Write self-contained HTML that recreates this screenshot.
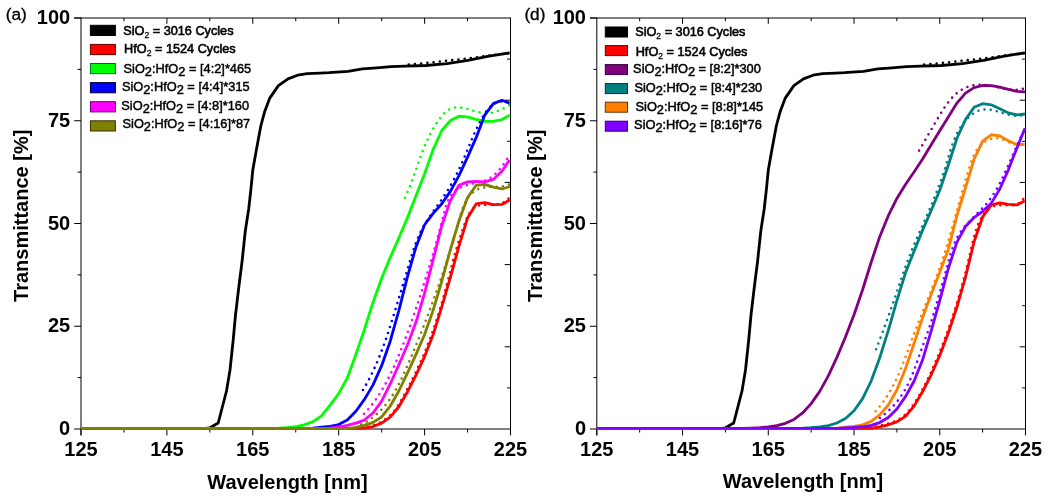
<!DOCTYPE html>
<html><head><meta charset="utf-8"><style>
html,body{margin:0;padding:0;background:#fff;}
svg{display:block;will-change:transform;}
text{font-family:"Liberation Sans", sans-serif;fill:#000;}
</style></head><body>
<svg width="1049" height="500" viewBox="0 0 1049 500">
<rect width="1049" height="500" fill="#fff"/>
<line x1="81.0" y1="17.5" x2="81.0" y2="435.4" stroke="#000" stroke-width="1"/>
<line x1="74.2" y1="18.0" x2="510.5" y2="18.0" stroke="#000" stroke-width="1"/>
<line x1="510.5" y1="17.5" x2="510.5" y2="429.5" stroke="#000" stroke-width="1"/>
<line x1="81.0" y1="429.0" x2="510.5" y2="429.0" stroke="#000" stroke-width="1"/>
<line x1="81.00" y1="429.0" x2="81.00" y2="435.4" stroke="#000" stroke-width="1"/>
<text x="81.00" y="455.6" font-size="20" font-weight="bold" text-anchor="middle">125</text>
<line x1="123.95" y1="429.0" x2="123.95" y2="432.5" stroke="#000" stroke-width="1"/>
<line x1="123.95" y1="18.0" x2="123.95" y2="21.2" stroke="#000" stroke-width="1"/>
<line x1="166.90" y1="429.0" x2="166.90" y2="435.4" stroke="#000" stroke-width="1"/>
<line x1="166.90" y1="18.0" x2="166.90" y2="23.8" stroke="#000" stroke-width="1"/>
<text x="166.90" y="455.6" font-size="20" font-weight="bold" text-anchor="middle">145</text>
<line x1="209.85" y1="429.0" x2="209.85" y2="432.5" stroke="#000" stroke-width="1"/>
<line x1="209.85" y1="18.0" x2="209.85" y2="21.2" stroke="#000" stroke-width="1"/>
<line x1="252.80" y1="429.0" x2="252.80" y2="435.4" stroke="#000" stroke-width="1"/>
<line x1="252.80" y1="18.0" x2="252.80" y2="23.8" stroke="#000" stroke-width="1"/>
<text x="252.80" y="455.6" font-size="20" font-weight="bold" text-anchor="middle">165</text>
<line x1="295.75" y1="429.0" x2="295.75" y2="432.5" stroke="#000" stroke-width="1"/>
<line x1="295.75" y1="18.0" x2="295.75" y2="21.2" stroke="#000" stroke-width="1"/>
<line x1="338.70" y1="429.0" x2="338.70" y2="435.4" stroke="#000" stroke-width="1"/>
<line x1="338.70" y1="18.0" x2="338.70" y2="23.8" stroke="#000" stroke-width="1"/>
<text x="338.70" y="455.6" font-size="20" font-weight="bold" text-anchor="middle">185</text>
<line x1="381.65" y1="429.0" x2="381.65" y2="432.5" stroke="#000" stroke-width="1"/>
<line x1="381.65" y1="18.0" x2="381.65" y2="21.2" stroke="#000" stroke-width="1"/>
<line x1="424.60" y1="429.0" x2="424.60" y2="435.4" stroke="#000" stroke-width="1"/>
<line x1="424.60" y1="18.0" x2="424.60" y2="23.8" stroke="#000" stroke-width="1"/>
<text x="424.60" y="455.6" font-size="20" font-weight="bold" text-anchor="middle">205</text>
<line x1="467.55" y1="429.0" x2="467.55" y2="432.5" stroke="#000" stroke-width="1"/>
<line x1="467.55" y1="18.0" x2="467.55" y2="21.2" stroke="#000" stroke-width="1"/>
<line x1="510.50" y1="429.0" x2="510.50" y2="435.4" stroke="#000" stroke-width="1"/>
<text x="510.50" y="455.6" font-size="20" font-weight="bold" text-anchor="middle">225</text>
<line x1="74.2" y1="429.00" x2="81.0" y2="429.00" stroke="#000" stroke-width="1"/>
<text x="70.2" y="435.10" font-size="20" font-weight="bold" text-anchor="end">0</text>
<line x1="77.6" y1="377.62" x2="81.0" y2="377.62" stroke="#000" stroke-width="1"/>
<line x1="74.2" y1="326.25" x2="81.0" y2="326.25" stroke="#000" stroke-width="1"/>
<text x="70.2" y="332.35" font-size="20" font-weight="bold" text-anchor="end">25</text>
<line x1="77.6" y1="274.88" x2="81.0" y2="274.88" stroke="#000" stroke-width="1"/>
<line x1="74.2" y1="223.50" x2="81.0" y2="223.50" stroke="#000" stroke-width="1"/>
<text x="70.2" y="229.60" font-size="20" font-weight="bold" text-anchor="end">50</text>
<line x1="77.6" y1="172.12" x2="81.0" y2="172.12" stroke="#000" stroke-width="1"/>
<line x1="74.2" y1="120.75" x2="81.0" y2="120.75" stroke="#000" stroke-width="1"/>
<text x="70.2" y="126.85" font-size="20" font-weight="bold" text-anchor="end">75</text>
<line x1="77.6" y1="69.38" x2="81.0" y2="69.38" stroke="#000" stroke-width="1"/>
<line x1="74.2" y1="18.00" x2="81.0" y2="18.00" stroke="#000" stroke-width="1"/>
<text x="70.2" y="24.10" font-size="20" font-weight="bold" text-anchor="end">100</text>
<line x1="507.1" y1="387.90" x2="510.5" y2="387.90" stroke="#000" stroke-width="1"/>
<line x1="504.7" y1="346.80" x2="510.5" y2="346.80" stroke="#000" stroke-width="1"/>
<line x1="507.1" y1="305.70" x2="510.5" y2="305.70" stroke="#000" stroke-width="1"/>
<line x1="504.7" y1="264.60" x2="510.5" y2="264.60" stroke="#000" stroke-width="1"/>
<line x1="507.1" y1="223.50" x2="510.5" y2="223.50" stroke="#000" stroke-width="1"/>
<line x1="504.7" y1="182.40" x2="510.5" y2="182.40" stroke="#000" stroke-width="1"/>
<line x1="507.1" y1="141.30" x2="510.5" y2="141.30" stroke="#000" stroke-width="1"/>
<line x1="504.7" y1="100.20" x2="510.5" y2="100.20" stroke="#000" stroke-width="1"/>
<line x1="507.1" y1="59.10" x2="510.5" y2="59.10" stroke="#000" stroke-width="1"/>
<path d="M408.70,64.63 L410.23,64.50 L411.75,64.36 L413.28,64.22 L414.80,64.08 L416.32,63.94 L417.85,63.80 L419.37,63.66 L420.89,63.51 L422.41,63.36 L423.94,63.21 L425.46,63.06 L426.98,62.91 L428.50,62.75 L430.03,62.60 L431.55,62.44 L433.07,62.28 L434.59,62.12 L436.11,61.96 L437.63,61.79 L439.16,61.63 L440.68,61.46 L442.20,61.30 L443.72,61.13 L445.24,60.96 L446.76,60.79 L448.28,60.62 L449.80,60.44 L451.32,60.27 L452.84,60.09 L454.36,59.92 L455.88,59.74 L457.40,59.56 L458.92,59.38 L460.44,59.20 L461.96,59.02 L463.48,58.84 L465.00,58.66 L466.52,58.47 L468.03,58.29 L469.55,58.10 L471.07,57.92 L472.59,57.73 L474.11,57.55 L475.63,57.36 L477.15,57.17 L478.66,56.98 L480.18,56.79 L481.70,56.60 L483.22,56.41 L484.74,56.22 L486.25,56.03 L487.77,55.84 L489.29,55.65 L490.81,55.46 L492.33,55.26 L493.84,55.07 L495.36,54.88 L496.88,54.69 L498.40,54.49 L499.91,54.30 L501.43,54.11 L502.95,53.91 L504.47,53.72 L505.98,53.53 L507.50,53.33 L509.02,53.14" fill="none" stroke="#000000" stroke-width="2.6" stroke-linecap="round" stroke-dasharray="0 6.25"/>
<path d="M81.00,428.40 L206.00,428.40 L210.00,427.80 L218.20,423.00 L226.50,391.00 L230.00,370.00 L233.20,340.00 L235.40,316.00 L238.70,288.00 L242.00,262.00 L245.30,231.00 L248.70,209.00 L250.90,189.40 L252.80,170.00 L256.40,149.80 L260.80,126.00 L264.80,111.20 L269.60,98.40 L278.40,85.60 L288.00,78.90 L297.60,75.20 L307.20,73.60 L320.00,73.10 L329.00,72.70 L348.00,71.40 L362.40,68.90 L376.70,67.90 L391.00,66.70 L405.30,66.20 L426.00,65.50 L446.90,63.60 L467.90,60.40 L488.90,56.20 L509.60,52.90" fill="none" stroke="#000000" stroke-width="2.8" stroke-linejoin="round" stroke-linecap="butt"/>
<path d="M362.01,427.51 L363.50,427.39 L364.99,427.21 L366.47,426.98 L367.95,426.71 L369.42,426.38 L370.89,426.01 L372.34,425.59 L373.78,425.12 L375.21,424.60 L376.62,424.04 L378.01,423.43 L379.38,422.78 L380.73,422.09 L382.06,421.35 L383.35,420.57 L384.63,419.75 L385.87,418.88 L387.08,417.98 L388.26,417.04 L389.40,416.06 L390.51,415.04 L391.58,413.99 L392.61,412.89 L393.59,411.77 L394.53,410.60 L395.43,409.41 L396.30,408.19 L397.14,406.94 L397.95,405.68 L398.73,404.39 L399.50,403.09 L400.25,401.78 L400.99,400.47 L401.72,399.15 L402.46,397.82 L403.19,396.50 L403.91,395.18 L404.64,393.85 L405.36,392.53 L406.08,391.20 L406.79,389.87 L407.50,388.54 L408.21,387.21 L408.92,385.88 L409.62,384.55 L410.31,383.21 L411.00,381.87 L411.69,380.53 L412.37,379.18 L413.04,377.84 L413.71,376.49 L414.37,375.14 L415.03,373.78 L415.68,372.42 L416.33,371.06 L416.97,369.70 L417.61,368.34 L418.24,366.97 L418.87,365.60 L419.49,364.22 L420.11,362.85 L420.72,361.47 L421.32,360.09 L421.92,358.71 L422.52,357.32 L423.11,355.94 L423.70,354.55 L424.28,353.16 L424.85,351.76 L425.42,350.37 L425.99,348.97 L426.55,347.57 L427.11,346.17 L427.66,344.77 L428.20,343.36 L428.74,341.95 L429.28,340.54 L429.81,339.13 L430.34,337.72 L430.86,336.30 L431.38,334.89 L431.90,333.47 L432.40,332.05 L432.91,330.63 L433.41,329.20 L433.90,327.78 L434.39,326.35 L434.88,324.92 L435.36,323.49 L435.84,322.06 L436.31,320.63 L436.78,319.20 L437.25,317.76 L437.71,316.32 L438.16,314.89 L438.61,313.45 L439.06,312.01 L439.50,310.56 L439.94,309.12 L440.38,307.68 L440.81,306.23 L441.23,304.79 L441.66,303.34 L442.08,301.89 L442.49,300.44 L442.90,298.99 L443.31,297.54 L443.71,296.09 L444.11,294.63 L444.51,293.18 L444.90,291.73 L445.29,290.27 L445.68,288.81 L446.06,287.36 L446.45,285.90 L446.83,284.44 L447.21,282.99 L447.59,281.53 L447.97,280.07 L448.35,278.61 L448.73,277.16 L449.11,275.70 L449.49,274.24 L449.86,272.78 L450.24,271.32 L450.62,269.86 L451.01,268.41 L451.39,266.95 L451.77,265.49 L452.16,264.03 L452.55,262.58 L452.94,261.12 L453.33,259.67 L453.73,258.21 L454.13,256.76 L454.53,255.30 L454.94,253.85 L455.35,252.40 L455.77,250.95 L456.19,249.50 L456.61,248.05 L457.04,246.60 L457.47,245.16 L457.91,243.71 L458.36,242.27 L458.81,240.82 L459.27,239.38 L459.74,237.94 L460.21,236.50 L460.68,235.07 L461.17,233.63 L461.66,232.20 L462.16,230.76 L462.67,229.33 L463.19,227.90 L463.72,226.48 L464.25,225.05 L464.80,223.63 L465.35,222.21 L465.91,220.79 L466.48,219.37 L467.07,217.96 L467.67,216.56 L468.30,215.20 L468.97,213.87 L469.68,212.59 L470.45,211.38 L471.28,210.24 L472.17,209.20 L473.15,208.26 L474.22,207.43 L475.38,206.73 L476.64,206.17 L478.00,205.73 L479.44,205.41 L480.95,205.18 L482.51,205.03 L484.10,204.94 L485.71,204.89 L487.33,204.86 L488.93,204.83 L490.53,204.80 L492.10,204.76 L493.66,204.68 L495.19,204.56 L496.70,204.39 L498.17,204.15 L499.61,203.84 L501.02,203.44 L502.38,202.94 L503.69,202.32 L504.96,201.58 L506.18,200.71 L507.34,199.69 L508.45,198.51 L509.49,197.16" fill="none" stroke="#ff0000" stroke-width="2.6" stroke-linecap="round" stroke-dasharray="0 6.25"/>
<path d="M81.00,428.40 L89.59,428.40 L98.18,428.40 L106.77,428.40 L115.36,428.40 L123.95,428.40 L132.54,428.40 L141.13,428.40 L149.72,428.40 L158.31,428.40 L166.90,428.40 L175.49,428.40 L184.08,428.40 L192.67,428.40 L201.26,428.40 L209.85,428.40 L218.44,428.40 L227.03,428.40 L235.62,428.40 L244.21,428.40 L252.80,428.40 L261.39,428.40 L269.98,428.40 L278.57,428.40 L287.16,428.40 L295.75,428.40 L304.34,428.40 L312.93,428.40 L321.52,428.40 L330.11,428.40 L338.70,428.40 L347.29,428.40 L355.88,428.40 L364.47,428.19 L373.06,426.55 L381.65,423.16 L390.24,417.07 L398.83,406.77 L407.42,391.97 L416.01,375.05 L424.60,356.54 L433.19,334.53 L441.78,306.79 L450.37,277.28 L458.96,246.08 L467.55,218.03 L476.14,203.92 L484.73,202.59 L493.32,204.54 L501.91,204.45 L510.00,199.84" fill="none" stroke="#ff0000" stroke-width="2.8" stroke-linejoin="round" stroke-linecap="butt"/>
<path d="M404.98,197.81 L405.63,196.42 L406.26,195.03 L406.88,193.63 L407.49,192.23 L408.08,190.83 L408.67,189.42 L409.24,188.01 L409.81,186.59 L410.36,185.18 L410.91,183.76 L411.45,182.34 L411.98,180.91 L412.51,179.49 L413.03,178.06 L413.55,176.63 L414.06,175.20 L414.57,173.77 L415.07,172.34 L415.58,170.91 L416.08,169.48 L416.58,168.05 L417.08,166.61 L417.58,165.18 L418.08,163.75 L418.59,162.32 L419.09,160.90 L419.60,159.47 L420.12,158.04 L420.64,156.62 L421.16,155.20 L421.69,153.78 L422.23,152.36 L422.77,150.95 L423.32,149.54 L423.88,148.13 L424.45,146.72 L425.03,145.32 L425.62,143.93 L426.22,142.54 L426.83,141.15 L427.46,139.76 L428.10,138.39 L428.75,137.01 L429.42,135.64 L430.10,134.28 L430.80,132.92 L431.52,131.57 L432.25,130.23 L433.00,128.89 L433.77,127.56 L434.56,126.24 L435.37,124.92 L436.20,123.61 L437.05,122.31 L437.92,121.01 L438.82,119.74 L439.74,118.48 L440.69,117.26 L441.66,116.07 L442.67,114.93 L443.70,113.84 L444.77,112.81 L445.87,111.84 L447.00,110.95 L448.17,110.14 L449.37,109.42 L450.62,108.79 L451.90,108.27 L453.23,107.85 L454.60,107.55 L456.01,107.38 L457.46,107.32 L458.95,107.37 L460.47,107.52 L462.01,107.75 L463.57,108.04 L465.15,108.40 L466.74,108.80 L468.33,109.23 L469.91,109.68 L471.49,110.13 L473.06,110.59 L474.61,111.02 L476.13,111.43 L477.64,111.80 L479.13,112.14 L480.60,112.43 L482.06,112.67 L483.51,112.86 L484.95,113.00 L486.38,113.07 L487.82,113.08 L489.25,113.01 L490.68,112.87 L492.12,112.65 L493.56,112.35 L495.01,111.96 L496.46,111.51 L497.91,110.98 L499.35,110.40 L500.78,109.78 L502.21,109.10 L503.61,108.40 L505.00,107.66 L506.37,106.90 L507.71,106.14 L509.03,105.36" fill="none" stroke="#00ff00" stroke-width="2.6" stroke-linecap="round" stroke-dasharray="0 6.25"/>
<path d="M81.00,428.40 L89.59,428.40 L98.18,428.40 L106.77,428.40 L115.36,428.40 L123.95,428.40 L132.54,428.40 L141.13,428.40 L149.72,428.40 L158.31,428.40 L166.90,428.40 L175.49,428.40 L184.08,428.40 L192.67,428.40 L201.26,428.40 L209.85,428.40 L218.44,428.40 L227.03,428.40 L235.62,428.40 L244.21,428.40 L252.80,428.40 L261.39,428.40 L269.98,428.40 L278.57,428.09 L287.16,427.55 L295.75,426.56 L304.34,424.77 L312.93,421.66 L321.52,415.81 L330.11,405.19 L338.70,393.56 L347.29,377.95 L355.88,354.56 L364.47,329.45 L373.06,302.19 L381.65,278.18 L390.24,257.47 L398.83,237.98 L407.42,217.88 L416.01,195.77 L424.60,173.69 L433.19,149.36 L441.78,130.53 L450.37,120.58 L458.96,116.25 L467.55,116.87 L476.14,119.48 L484.73,121.26 L493.32,121.47 L501.91,119.51 L509.64,115.11" fill="none" stroke="#00ff00" stroke-width="2.8" stroke-linejoin="round" stroke-linecap="butt"/>
<path d="M362.96,390.04 L363.74,388.74 L364.50,387.43 L365.26,386.12 L366.01,384.81 L366.75,383.49 L367.47,382.16 L368.19,380.84 L368.89,379.50 L369.59,378.16 L370.28,376.82 L370.95,375.47 L371.62,374.12 L372.28,372.76 L372.93,371.40 L373.58,370.04 L374.21,368.67 L374.83,367.30 L375.45,365.93 L376.06,364.55 L376.66,363.17 L377.26,361.78 L377.84,360.39 L378.42,359.00 L378.99,357.61 L379.56,356.21 L380.12,354.81 L380.67,353.41 L381.22,352.00 L381.76,350.59 L382.29,349.18 L382.82,347.77 L383.34,346.35 L383.86,344.93 L384.37,343.51 L384.88,342.09 L385.38,340.67 L385.88,339.24 L386.37,337.81 L386.86,336.38 L387.34,334.95 L387.82,333.52 L388.30,332.09 L388.77,330.65 L389.24,329.22 L389.71,327.78 L390.17,326.34 L390.63,324.90 L391.09,323.46 L391.54,322.02 L392.00,320.58 L392.45,319.14 L392.90,317.70 L393.34,316.26 L393.79,314.82 L394.23,313.37 L394.68,311.93 L395.12,310.49 L395.56,309.05 L396.00,307.61 L396.44,306.17 L396.88,304.72 L397.32,303.28 L397.75,301.84 L398.19,300.40 L398.63,298.96 L399.06,297.52 L399.50,296.08 L399.93,294.64 L400.37,293.20 L400.80,291.76 L401.23,290.32 L401.67,288.88 L402.10,287.43 L402.53,285.99 L402.96,284.55 L403.40,283.11 L403.83,281.66 L404.26,280.22 L404.69,278.77 L405.12,277.33 L405.55,275.88 L405.98,274.44 L406.41,272.99 L406.84,271.54 L407.27,270.09 L407.70,268.64 L408.13,267.19 L408.56,265.74 L408.99,264.29 L409.42,262.83 L409.85,261.38 L410.28,259.93 L410.72,258.48 L411.16,257.02 L411.61,255.58 L412.06,254.13 L412.52,252.69 L412.98,251.25 L413.46,249.81 L413.94,248.38 L414.43,246.95 L414.94,245.52 L415.45,244.11 L415.98,242.70 L416.52,241.29 L417.07,239.89 L417.64,238.50 L418.23,237.12 L418.83,235.74 L419.45,234.38 L420.08,233.02 L420.74,231.67 L421.41,230.34 L422.11,229.01 L422.82,227.69 L423.55,226.38 L424.30,225.09 L425.07,223.80 L425.85,222.52 L426.65,221.24 L427.46,219.97 L428.28,218.71 L429.11,217.46 L429.95,216.20 L430.81,214.96 L431.66,213.71 L432.53,212.47 L433.40,211.24 L434.27,210.00 L435.15,208.77 L436.03,207.53 L436.91,206.30 L437.78,205.06 L438.66,203.83 L439.54,202.59 L440.41,201.35 L441.27,200.11 L442.13,198.87 L442.99,197.62 L443.83,196.36 L444.67,195.10 L445.49,193.84 L446.31,192.56 L447.11,191.29 L447.90,190.00 L448.69,188.71 L449.46,187.42 L450.22,186.12 L450.97,184.81 L451.71,183.50 L452.44,182.18 L453.16,180.86 L453.87,179.54 L454.58,178.20 L455.27,176.87 L455.96,175.53 L456.64,174.19 L457.30,172.84 L457.97,171.49 L458.62,170.13 L459.26,168.77 L459.90,167.41 L460.53,166.04 L461.16,164.68 L461.77,163.30 L462.38,161.93 L462.99,160.55 L463.58,159.17 L464.18,157.79 L464.76,156.41 L465.34,155.02 L465.92,153.63 L466.50,152.25 L467.08,150.85 L467.65,149.46 L468.22,148.07 L468.80,146.68 L469.37,145.28 L469.95,143.89 L470.53,142.50 L471.11,141.10 L471.70,139.71 L472.29,138.32 L472.89,136.92 L473.49,135.53 L474.11,134.14 L474.72,132.75 L475.35,131.36 L475.99,129.98 L476.64,128.59 L477.29,127.21 L477.96,125.83 L478.65,124.45 L479.34,123.08 L480.05,121.71 L480.78,120.34 L481.52,118.97 L482.27,117.61 L483.05,116.27 L483.84,114.94 L484.66,113.64 L485.51,112.38 L486.38,111.15 L487.29,109.96 L488.22,108.83 L489.19,107.75 L490.19,106.73 L491.24,105.79 L492.32,104.92 L493.44,104.13 L494.61,103.43 L495.83,102.82 L497.10,102.32 L498.41,101.92 L499.78,101.63 L501.21,101.46 L502.69,101.42 L504.23,101.51 L505.83,101.74 L507.50,102.11 L509.23,102.63" fill="none" stroke="#0000ff" stroke-width="2.6" stroke-linecap="round" stroke-dasharray="0 6.25"/>
<path d="M81.00,428.40 L89.59,428.40 L98.18,428.40 L106.77,428.40 L115.36,428.40 L123.95,428.40 L132.54,428.40 L141.13,428.40 L149.72,428.40 L158.31,428.40 L166.90,428.40 L175.49,428.40 L184.08,428.40 L192.67,428.40 L201.26,428.40 L209.85,428.40 L218.44,428.40 L227.03,428.40 L235.62,428.40 L244.21,428.40 L252.80,428.40 L261.39,428.40 L269.98,428.40 L278.57,428.40 L287.16,428.40 L295.75,428.40 L304.34,428.40 L312.93,428.25 L321.52,427.21 L330.11,426.44 L338.70,424.57 L347.29,420.05 L355.88,411.30 L364.47,399.35 L373.06,384.85 L381.65,365.67 L390.24,341.19 L398.83,310.62 L407.42,276.96 L416.01,246.92 L424.60,224.72 L433.19,213.35 L441.78,203.78 L450.37,191.36 L458.96,175.70 L467.55,157.19 L476.14,137.64 L484.73,115.12 L493.32,103.62 L501.91,100.31 L509.59,103.22" fill="none" stroke="#0000ff" stroke-width="2.8" stroke-linejoin="round" stroke-linecap="butt"/>
<path d="M363.99,413.84 L365.03,412.75 L366.05,411.64 L367.06,410.52 L368.05,409.39 L369.03,408.25 L369.99,407.10 L370.94,405.94 L371.87,404.76 L372.79,403.58 L373.69,402.38 L374.58,401.18 L375.45,399.96 L376.32,398.74 L377.17,397.51 L378.00,396.26 L378.83,395.01 L379.64,393.75 L380.44,392.49 L381.23,391.21 L382.01,389.93 L382.77,388.64 L383.53,387.34 L384.27,386.03 L385.01,384.72 L385.73,383.40 L386.45,382.08 L387.15,380.75 L387.85,379.41 L388.53,378.07 L389.21,376.72 L389.88,375.37 L390.54,374.01 L391.19,372.65 L391.84,371.28 L392.48,369.91 L393.11,368.53 L393.73,367.16 L394.35,365.77 L394.96,364.39 L395.56,363.00 L396.16,361.61 L396.75,360.22 L397.34,358.82 L397.92,357.42 L398.50,356.02 L399.07,354.62 L399.64,353.22 L400.21,351.81 L400.77,350.41 L401.32,349.00 L401.88,347.60 L402.43,346.19 L402.98,344.79 L403.52,343.38 L404.06,341.97 L404.60,340.56 L405.13,339.15 L405.66,337.74 L406.19,336.33 L406.72,334.92 L407.24,333.51 L407.76,332.10 L408.28,330.69 L408.79,329.27 L409.30,327.86 L409.81,326.44 L410.32,325.03 L410.82,323.61 L411.32,322.20 L411.82,320.78 L412.31,319.36 L412.81,317.94 L413.30,316.52 L413.79,315.10 L414.27,313.68 L414.76,312.26 L415.24,310.83 L415.72,309.41 L416.20,307.99 L416.67,306.56 L417.15,305.13 L417.62,303.71 L418.09,302.28 L418.56,300.85 L419.03,299.42 L419.49,297.99 L419.95,296.56 L420.42,295.12 L420.88,293.69 L421.33,292.26 L421.79,290.82 L422.25,289.38 L422.70,287.95 L423.15,286.51 L423.61,285.07 L424.06,283.63 L424.51,282.19 L424.95,280.75 L425.40,279.30 L425.85,277.86 L426.29,276.41 L426.74,274.97 L427.18,273.52 L427.62,272.07 L428.06,270.62 L428.50,269.17 L428.94,267.72 L429.37,266.27 L429.81,264.82 L430.24,263.37 L430.67,261.92 L431.10,260.47 L431.53,259.02 L431.95,257.57 L432.38,256.12 L432.80,254.67 L433.22,253.22 L433.63,251.78 L434.05,250.33 L434.46,248.88 L434.87,247.44 L435.28,245.99 L435.69,244.55 L436.09,243.11 L436.49,241.67 L436.89,240.23 L437.28,238.79 L437.68,237.35 L438.07,235.92 L438.45,234.49 L438.84,233.05 L439.22,231.62 L439.60,230.18 L439.99,228.74 L440.37,227.30 L440.75,225.85 L441.13,224.40 L441.51,222.95 L441.89,221.49 L442.28,220.02 L442.66,218.54 L443.05,217.06 L443.44,215.57 L443.83,214.06 L444.23,212.55 L444.63,211.04 L445.05,209.52 L445.48,208.01 L445.94,206.51 L446.42,205.02 L446.93,203.56 L447.47,202.13 L448.06,200.73 L448.69,199.36 L449.37,198.04 L450.11,196.77 L450.90,195.56 L451.76,194.40 L452.69,193.31 L453.68,192.29 L454.74,191.33 L455.85,190.43 L457.02,189.59 L458.24,188.81 L459.51,188.09 L460.82,187.42 L462.17,186.80 L463.55,186.23 L464.96,185.70 L466.40,185.22 L467.85,184.78 L469.33,184.39 L470.81,184.02 L472.30,183.69 L473.80,183.37 L475.29,183.07 L476.78,182.76 L478.27,182.45 L479.74,182.12 L481.19,181.76 L482.63,181.36 L484.04,180.92 L485.42,180.42 L486.77,179.86 L488.08,179.23 L489.36,178.52 L490.60,177.74 L491.81,176.90 L492.99,176.00 L494.13,175.04 L495.24,174.03 L496.32,172.98 L497.38,171.89 L498.41,170.76 L499.41,169.60 L500.39,168.41 L501.34,167.20 L502.27,165.97 L503.18,164.72 L504.08,163.47 L504.95,162.22 L505.80,160.96 L506.64,159.71 L507.47,158.47 L508.28,157.24 L509.07,156.03" fill="none" stroke="#ff00ff" stroke-width="2.6" stroke-linecap="round" stroke-dasharray="0 6.25"/>
<path d="M81.00,428.40 L89.59,428.40 L98.18,428.40 L106.77,428.40 L115.36,428.40 L123.95,428.40 L132.54,428.40 L141.13,428.40 L149.72,428.40 L158.31,428.40 L166.90,428.40 L175.49,428.40 L184.08,428.40 L192.67,428.40 L201.26,428.40 L209.85,428.40 L218.44,428.40 L227.03,428.40 L235.62,428.40 L244.21,428.40 L252.80,428.40 L261.39,428.40 L269.98,428.40 L278.57,428.40 L287.16,428.40 L295.75,428.40 L304.34,428.40 L312.93,428.40 L321.52,428.40 L330.11,428.17 L338.70,427.01 L347.29,425.39 L355.88,423.17 L364.47,419.98 L373.06,412.82 L381.65,401.17 L390.24,383.98 L398.83,364.80 L407.42,344.97 L416.01,322.06 L424.60,293.15 L433.19,259.50 L441.78,225.68 L450.37,200.67 L458.96,185.24 L467.55,181.85 L476.14,181.44 L484.73,181.94 L493.32,179.39 L501.91,171.22 L509.48,160.08" fill="none" stroke="#ff00ff" stroke-width="2.8" stroke-linejoin="round" stroke-linecap="butt"/>
<path d="M361.21,424.39 L362.66,423.69 L364.07,422.95 L365.46,422.19 L366.81,421.40 L368.14,420.59 L369.43,419.75 L370.70,418.89 L371.94,418.01 L373.16,417.10 L374.35,416.17 L375.51,415.21 L376.65,414.24 L377.77,413.24 L378.86,412.22 L379.93,411.19 L380.97,410.13 L381.99,409.05 L383.00,407.96 L383.98,406.85 L384.94,405.72 L385.88,404.58 L386.80,403.41 L387.70,402.24 L388.58,401.04 L389.45,399.84 L390.30,398.62 L391.13,397.38 L391.95,396.13 L392.75,394.87 L393.54,393.60 L394.31,392.32 L395.07,391.03 L395.82,389.72 L396.55,388.41 L397.27,387.09 L397.98,385.76 L398.68,384.42 L399.37,383.07 L400.05,381.72 L400.73,380.36 L401.39,378.99 L402.04,377.62 L402.69,376.25 L403.33,374.87 L403.96,373.48 L404.59,372.10 L405.22,370.71 L405.83,369.32 L406.45,367.92 L407.06,366.53 L407.67,365.14 L408.27,363.74 L408.88,362.35 L409.48,360.95 L410.08,359.56 L410.67,358.16 L411.26,356.77 L411.86,355.37 L412.44,353.98 L413.03,352.58 L413.61,351.19 L414.19,349.79 L414.77,348.39 L415.35,347.00 L415.92,345.60 L416.49,344.20 L417.06,342.80 L417.63,341.41 L418.19,340.01 L418.76,338.61 L419.32,337.21 L419.87,335.81 L420.43,334.41 L420.98,333.01 L421.54,331.61 L422.09,330.21 L422.63,328.81 L423.18,327.40 L423.72,326.00 L424.27,324.60 L424.81,323.19 L425.34,321.79 L425.88,320.39 L426.41,318.98 L426.95,317.58 L427.48,316.17 L428.01,314.76 L428.53,313.36 L429.06,311.95 L429.58,310.54 L430.10,309.13 L430.62,307.72 L431.14,306.31 L431.66,304.90 L432.18,303.49 L432.69,302.08 L433.20,300.67 L433.71,299.25 L434.22,297.84 L434.73,296.43 L435.24,295.01 L435.74,293.59 L436.24,292.18 L436.74,290.76 L437.24,289.34 L437.74,287.92 L438.24,286.50 L438.73,285.08 L439.23,283.66 L439.72,282.24 L440.21,280.82 L440.70,279.39 L441.18,277.97 L441.67,276.54 L442.15,275.12 L442.63,273.69 L443.11,272.26 L443.58,270.83 L444.06,269.40 L444.53,267.97 L445.01,266.53 L445.47,265.10 L445.94,263.66 L446.41,262.23 L446.87,260.79 L447.33,259.35 L447.79,257.91 L448.25,256.47 L448.71,255.02 L449.16,253.58 L449.61,252.13 L450.06,250.69 L450.51,249.24 L450.96,247.79 L451.40,246.34 L451.84,244.89 L452.28,243.43 L452.72,241.98 L453.16,240.52 L453.59,239.06 L454.02,237.60 L454.45,236.14 L454.88,234.68 L455.30,233.22 L455.72,231.75 L456.14,230.28 L456.56,228.81 L456.98,227.34 L457.39,225.87 L457.80,224.40 L458.21,222.92 L458.61,221.44 L459.02,219.97 L459.43,218.49 L459.85,217.02 L460.27,215.55 L460.71,214.09 L461.16,212.64 L461.63,211.20 L462.13,209.78 L462.65,208.37 L463.19,206.97 L463.77,205.60 L464.39,204.25 L465.04,202.92 L465.73,201.61 L466.46,200.33 L467.25,199.08 L468.08,197.86 L468.96,196.68 L469.89,195.54 L470.87,194.45 L471.90,193.42 L472.98,192.45 L474.11,191.54 L475.28,190.71 L476.51,189.96 L477.78,189.29 L479.10,188.71 L480.47,188.24 L481.88,187.85 L483.33,187.55 L484.81,187.31 L486.32,187.14 L487.86,187.02 L489.41,186.93 L490.97,186.88 L492.55,186.84 L494.12,186.80 L495.70,186.76 L497.26,186.71 L498.81,186.63 L500.35,186.51 L501.86,186.35 L503.34,186.13 L504.79,185.84 L506.20,185.46 L507.57,185.00 L508.89,184.44" fill="none" stroke="#808000" stroke-width="2.6" stroke-linecap="round" stroke-dasharray="0 6.25"/>
<path d="M81.00,428.40 L89.59,428.40 L98.18,428.40 L106.77,428.40 L115.36,428.40 L123.95,428.40 L132.54,428.40 L141.13,428.40 L149.72,428.40 L158.31,428.40 L166.90,428.40 L175.49,428.40 L184.08,428.40 L192.67,428.40 L201.26,428.40 L209.85,428.40 L218.44,428.40 L227.03,428.40 L235.62,428.40 L244.21,428.40 L252.80,428.40 L261.39,428.40 L269.98,428.40 L278.57,428.40 L287.16,428.40 L295.75,428.40 L304.34,428.40 L312.93,428.40 L321.52,428.40 L330.11,428.40 L338.70,428.54 L347.29,428.36 L355.88,427.34 L364.47,425.37 L373.06,422.35 L381.65,416.99 L390.24,406.06 L398.83,391.00 L407.42,373.11 L416.01,354.39 L424.60,334.56 L433.19,310.14 L441.78,281.23 L450.37,249.76 L458.96,220.90 L467.55,197.49 L476.14,185.34 L484.73,184.45 L493.32,187.09 L501.91,188.97 L510.07,186.49" fill="none" stroke="#808000" stroke-width="2.8" stroke-linejoin="round" stroke-linecap="butt"/>
<rect x="90.4" y="25.3" width="25" height="10.2" fill="#000000" stroke="#000" stroke-width="1"/>
<text x="123.3" y="34.8" font-size="12.7" stroke="#000" stroke-width="0.6">SiO<tspan font-size="8.6" dy="3" stroke-width="0.3">2</tspan><tspan dy="-3"> = 3016 Cycles</tspan></text>
<rect x="90.4" y="44.4" width="25" height="10.2" fill="#ff0000" stroke="#600" stroke-width="1"/>
<text x="124.1" y="52.8" font-size="12.7" stroke="#000" stroke-width="0.6">HfO<tspan font-size="8.6" dy="3" stroke-width="0.3">2</tspan><tspan dy="-3"> = 1524 Cycles</tspan></text>
<rect x="90.4" y="63.5" width="25" height="10.2" fill="#00ff00" stroke="#063" stroke-width="1"/>
<text x="123.5" y="72.6" font-size="12.8" stroke="#000" stroke-width="0.45">SiO<tspan dy="3">2</tspan><tspan dy="-3">:HfO</tspan><tspan dy="3">2</tspan><tspan dy="-3"> = [4:2]*465</tspan></text>
<rect x="90.4" y="82.6" width="25" height="10.2" fill="#0000ff" stroke="#003" stroke-width="1"/>
<text x="121.9" y="91.0" font-size="12.8" stroke="#000" stroke-width="0.45">SiO<tspan dy="3">2</tspan><tspan dy="-3">:HfO</tspan><tspan dy="3">2</tspan><tspan dy="-3"> = [4:4]*315</tspan></text>
<rect x="90.4" y="101.7" width="25" height="10.2" fill="#ff00ff" stroke="#606" stroke-width="1"/>
<text x="121.3" y="110.0" font-size="12.8" stroke="#000" stroke-width="0.45">SiO<tspan dy="3">2</tspan><tspan dy="-3">:HfO</tspan><tspan dy="3">2</tspan><tspan dy="-3"> = [4:8]*160</tspan></text>
<rect x="90.4" y="120.8" width="25" height="10.2" fill="#808000" stroke="#330" stroke-width="1"/>
<text x="122.5" y="128.0" font-size="12.8" stroke="#000" stroke-width="0.45">SiO<tspan dy="3">2</tspan><tspan dy="-3">:HfO</tspan><tspan dy="3">2</tspan><tspan dy="-3"> = [4:16]*87</tspan></text>
<text x="5.8" y="20.3" font-size="17.2" stroke="#000" stroke-width="0.35">(a)</text>
<text x="287.5" y="489.4" font-size="20" font-weight="bold" text-anchor="middle">Wavelength [nm]</text>
<text transform="translate(28.4,215.8) rotate(-90)" x="0" y="0" font-size="20" font-weight="bold" text-anchor="middle">Transmittance [%]</text>
<line x1="596.8" y1="17.5" x2="596.8" y2="435.4" stroke="#000" stroke-width="1"/>
<line x1="590.0" y1="18.0" x2="1025.5" y2="18.0" stroke="#000" stroke-width="1"/>
<line x1="1025.5" y1="17.5" x2="1025.5" y2="429.5" stroke="#000" stroke-width="1"/>
<line x1="596.8" y1="429.0" x2="1025.5" y2="429.0" stroke="#000" stroke-width="1"/>
<line x1="596.80" y1="429.0" x2="596.80" y2="435.4" stroke="#000" stroke-width="1"/>
<text x="596.80" y="455.6" font-size="20" font-weight="bold" text-anchor="middle">125</text>
<line x1="639.67" y1="429.0" x2="639.67" y2="432.5" stroke="#000" stroke-width="1"/>
<line x1="639.67" y1="18.0" x2="639.67" y2="21.2" stroke="#000" stroke-width="1"/>
<line x1="682.54" y1="429.0" x2="682.54" y2="435.4" stroke="#000" stroke-width="1"/>
<line x1="682.54" y1="18.0" x2="682.54" y2="23.8" stroke="#000" stroke-width="1"/>
<text x="682.54" y="455.6" font-size="20" font-weight="bold" text-anchor="middle">145</text>
<line x1="725.41" y1="429.0" x2="725.41" y2="432.5" stroke="#000" stroke-width="1"/>
<line x1="725.41" y1="18.0" x2="725.41" y2="21.2" stroke="#000" stroke-width="1"/>
<line x1="768.28" y1="429.0" x2="768.28" y2="435.4" stroke="#000" stroke-width="1"/>
<line x1="768.28" y1="18.0" x2="768.28" y2="23.8" stroke="#000" stroke-width="1"/>
<text x="768.28" y="455.6" font-size="20" font-weight="bold" text-anchor="middle">165</text>
<line x1="811.15" y1="429.0" x2="811.15" y2="432.5" stroke="#000" stroke-width="1"/>
<line x1="811.15" y1="18.0" x2="811.15" y2="21.2" stroke="#000" stroke-width="1"/>
<line x1="854.02" y1="429.0" x2="854.02" y2="435.4" stroke="#000" stroke-width="1"/>
<line x1="854.02" y1="18.0" x2="854.02" y2="23.8" stroke="#000" stroke-width="1"/>
<text x="854.02" y="455.6" font-size="20" font-weight="bold" text-anchor="middle">185</text>
<line x1="896.89" y1="429.0" x2="896.89" y2="432.5" stroke="#000" stroke-width="1"/>
<line x1="896.89" y1="18.0" x2="896.89" y2="21.2" stroke="#000" stroke-width="1"/>
<line x1="939.76" y1="429.0" x2="939.76" y2="435.4" stroke="#000" stroke-width="1"/>
<line x1="939.76" y1="18.0" x2="939.76" y2="23.8" stroke="#000" stroke-width="1"/>
<text x="939.76" y="455.6" font-size="20" font-weight="bold" text-anchor="middle">205</text>
<line x1="982.63" y1="429.0" x2="982.63" y2="432.5" stroke="#000" stroke-width="1"/>
<line x1="982.63" y1="18.0" x2="982.63" y2="21.2" stroke="#000" stroke-width="1"/>
<line x1="1025.50" y1="429.0" x2="1025.50" y2="435.4" stroke="#000" stroke-width="1"/>
<text x="1025.50" y="455.6" font-size="20" font-weight="bold" text-anchor="middle">225</text>
<line x1="590.0" y1="429.00" x2="596.8" y2="429.00" stroke="#000" stroke-width="1"/>
<text x="586.0" y="435.10" font-size="20" font-weight="bold" text-anchor="end">0</text>
<line x1="593.4" y1="377.62" x2="596.8" y2="377.62" stroke="#000" stroke-width="1"/>
<line x1="590.0" y1="326.25" x2="596.8" y2="326.25" stroke="#000" stroke-width="1"/>
<text x="586.0" y="332.35" font-size="20" font-weight="bold" text-anchor="end">25</text>
<line x1="593.4" y1="274.88" x2="596.8" y2="274.88" stroke="#000" stroke-width="1"/>
<line x1="590.0" y1="223.50" x2="596.8" y2="223.50" stroke="#000" stroke-width="1"/>
<text x="586.0" y="229.60" font-size="20" font-weight="bold" text-anchor="end">50</text>
<line x1="593.4" y1="172.12" x2="596.8" y2="172.12" stroke="#000" stroke-width="1"/>
<line x1="590.0" y1="120.75" x2="596.8" y2="120.75" stroke="#000" stroke-width="1"/>
<text x="586.0" y="126.85" font-size="20" font-weight="bold" text-anchor="end">75</text>
<line x1="593.4" y1="69.38" x2="596.8" y2="69.38" stroke="#000" stroke-width="1"/>
<line x1="590.0" y1="18.00" x2="596.8" y2="18.00" stroke="#000" stroke-width="1"/>
<text x="586.0" y="24.10" font-size="20" font-weight="bold" text-anchor="end">100</text>
<line x1="1022.1" y1="387.90" x2="1025.5" y2="387.90" stroke="#000" stroke-width="1"/>
<line x1="1019.7" y1="346.80" x2="1025.5" y2="346.80" stroke="#000" stroke-width="1"/>
<line x1="1022.1" y1="305.70" x2="1025.5" y2="305.70" stroke="#000" stroke-width="1"/>
<line x1="1019.7" y1="264.60" x2="1025.5" y2="264.60" stroke="#000" stroke-width="1"/>
<line x1="1022.1" y1="223.50" x2="1025.5" y2="223.50" stroke="#000" stroke-width="1"/>
<line x1="1019.7" y1="182.40" x2="1025.5" y2="182.40" stroke="#000" stroke-width="1"/>
<line x1="1022.1" y1="141.30" x2="1025.5" y2="141.30" stroke="#000" stroke-width="1"/>
<line x1="1019.7" y1="100.20" x2="1025.5" y2="100.20" stroke="#000" stroke-width="1"/>
<line x1="1022.1" y1="59.10" x2="1025.5" y2="59.10" stroke="#000" stroke-width="1"/>
<path d="M924.20,64.63 L925.73,64.50 L927.25,64.36 L928.78,64.22 L930.30,64.08 L931.82,63.94 L933.35,63.80 L934.87,63.66 L936.39,63.51 L937.91,63.36 L939.44,63.21 L940.96,63.06 L942.48,62.91 L944.00,62.75 L945.53,62.60 L947.05,62.44 L948.57,62.28 L950.09,62.12 L951.61,61.96 L953.13,61.79 L954.66,61.63 L956.18,61.46 L957.70,61.30 L959.22,61.13 L960.74,60.96 L962.26,60.79 L963.78,60.62 L965.30,60.44 L966.82,60.27 L968.34,60.09 L969.86,59.92 L971.38,59.74 L972.90,59.56 L974.42,59.38 L975.94,59.20 L977.46,59.02 L978.98,58.84 L980.50,58.66 L982.02,58.47 L983.53,58.29 L985.05,58.10 L986.57,57.92 L988.09,57.73 L989.61,57.55 L991.13,57.36 L992.65,57.17 L994.16,56.98 L995.68,56.79 L997.20,56.60 L998.72,56.41 L1000.24,56.22 L1001.75,56.03 L1003.27,55.84 L1004.79,55.65 L1006.31,55.46 L1007.83,55.26 L1009.34,55.07 L1010.86,54.88 L1012.38,54.69 L1013.90,54.49 L1015.41,54.30 L1016.93,54.11 L1018.45,53.91 L1019.97,53.72 L1021.48,53.53 L1023.00,53.33 L1024.52,53.14" fill="none" stroke="#000000" stroke-width="2.6" stroke-linecap="round" stroke-dasharray="0 6.25"/>
<path d="M596.50,428.40 L721.50,428.40 L725.50,427.80 L733.70,423.00 L742.00,391.00 L745.50,370.00 L748.70,340.00 L750.90,316.00 L754.20,288.00 L757.50,262.00 L760.80,231.00 L764.20,209.00 L766.40,189.40 L768.30,170.00 L771.90,149.80 L776.30,126.00 L780.30,111.20 L785.10,98.40 L793.90,85.60 L803.50,78.90 L813.10,75.20 L822.70,73.60 L835.50,73.10 L844.50,72.70 L863.50,71.40 L877.90,68.90 L892.20,67.90 L906.50,66.70 L920.80,66.20 L941.50,65.50 L962.40,63.60 L983.40,60.40 L1004.40,56.20 L1024.90,52.80" fill="none" stroke="#000000" stroke-width="2.8" stroke-linejoin="round" stroke-linecap="butt"/>
<path d="M876.01,426.59 L877.41,426.26 L878.84,425.93 L880.30,425.60 L881.76,425.25 L883.24,424.89 L884.73,424.52 L886.22,424.13 L887.71,423.71 L889.19,423.27 L890.66,422.80 L892.12,422.29 L893.57,421.76 L894.99,421.18 L896.38,420.56 L897.74,419.89 L899.07,419.17 L900.36,418.41 L901.60,417.58 L902.80,416.70 L903.95,415.76 L905.06,414.78 L906.13,413.74 L907.16,412.67 L908.16,411.56 L909.12,410.41 L910.06,409.23 L910.98,408.03 L911.87,406.81 L912.74,405.57 L913.59,404.32 L914.43,403.06 L915.26,401.79 L916.07,400.52 L916.87,399.23 L917.66,397.95 L918.44,396.65 L919.21,395.35 L919.96,394.04 L920.71,392.73 L921.44,391.41 L922.16,390.09 L922.88,388.76 L923.58,387.42 L924.28,386.08 L924.97,384.74 L925.64,383.39 L926.32,382.04 L926.98,380.68 L927.64,379.32 L928.29,377.96 L928.93,376.60 L929.57,375.23 L930.20,373.85 L930.83,372.48 L931.45,371.10 L932.07,369.73 L932.69,368.34 L933.30,366.96 L933.90,365.58 L934.51,364.19 L935.10,362.80 L935.70,361.42 L936.29,360.02 L936.88,358.63 L937.46,357.24 L938.04,355.84 L938.62,354.44 L939.19,353.05 L939.76,351.65 L940.32,350.24 L940.88,348.84 L941.44,347.44 L941.99,346.03 L942.54,344.62 L943.09,343.21 L943.63,341.80 L944.16,340.39 L944.70,338.98 L945.23,337.56 L945.76,336.14 L946.28,334.73 L946.80,333.31 L947.31,331.89 L947.83,330.47 L948.33,329.04 L948.84,327.62 L949.34,326.19 L949.84,324.77 L950.33,323.34 L950.82,321.91 L951.31,320.48 L951.79,319.05 L952.27,317.62 L952.74,316.19 L953.21,314.75 L953.68,313.32 L954.15,311.88 L954.61,310.44 L955.06,309.01 L955.52,307.57 L955.97,306.13 L956.41,304.69 L956.86,303.24 L957.30,301.80 L957.73,300.36 L958.16,298.91 L958.59,297.47 L959.02,296.02 L959.44,294.58 L959.86,293.13 L960.27,291.68 L960.68,290.23 L961.09,288.78 L961.50,287.33 L961.90,285.88 L962.29,284.43 L962.69,282.97 L963.08,281.52 L963.47,280.06 L963.85,278.61 L964.23,277.15 L964.61,275.70 L964.99,274.24 L965.36,272.78 L965.73,271.32 L966.10,269.86 L966.47,268.40 L966.83,266.93 L967.19,265.47 L967.55,264.00 L967.90,262.54 L968.25,261.07 L968.61,259.60 L968.95,258.13 L969.30,256.66 L969.65,255.19 L969.99,253.71 L970.33,252.24 L970.67,250.76 L971.01,249.28 L971.34,247.80 L971.68,246.33 L972.02,244.85 L972.36,243.37 L972.71,241.89 L973.06,240.41 L973.43,238.94 L973.80,237.47 L974.19,236.01 L974.60,234.55 L975.02,233.10 L975.46,231.65 L975.92,230.21 L976.41,228.78 L976.92,227.36 L977.45,225.94 L978.02,224.54 L978.61,223.15 L979.24,221.77 L979.90,220.40 L980.60,219.05 L981.33,217.71 L982.11,216.38 L982.93,215.08 L983.79,213.82 L984.71,212.61 L985.68,211.47 L986.70,210.40 L987.78,209.41 L988.92,208.53 L990.12,207.76 L991.39,207.11 L992.72,206.57 L994.10,206.14 L995.53,205.80 L996.99,205.54 L998.48,205.37 L1000.00,205.26 L1001.53,205.21 L1003.07,205.22 L1004.61,205.26 L1006.14,205.31 L1007.67,205.36 L1009.19,205.38 L1010.68,205.35 L1012.15,205.26 L1013.58,205.08 L1014.98,204.79 L1016.34,204.39 L1017.66,203.85 L1018.92,203.17 L1020.14,202.33 L1021.30,201.33 L1022.41,200.15 L1023.45,198.79 L1024.44,197.22" fill="none" stroke="#ff0000" stroke-width="2.6" stroke-linecap="round" stroke-dasharray="0 6.25"/>
<path d="M596.80,428.40 L605.37,428.40 L613.95,428.40 L622.52,428.40 L631.10,428.40 L639.67,428.40 L648.24,428.40 L656.82,428.40 L665.39,428.40 L673.97,428.40 L682.54,428.40 L691.11,428.40 L699.69,428.40 L708.26,428.40 L716.84,428.40 L725.41,428.40 L733.98,428.40 L742.56,428.40 L751.13,428.40 L759.71,428.40 L768.28,428.40 L776.85,428.40 L785.43,428.40 L794.00,428.40 L802.58,428.40 L811.15,428.40 L819.72,428.40 L828.30,428.40 L836.87,428.40 L845.45,428.40 L854.02,428.40 L862.59,428.43 L871.17,428.25 L879.74,426.91 L888.32,424.80 L896.89,421.84 L905.46,416.41 L914.04,406.14 L922.61,391.58 L931.19,374.80 L939.76,355.44 L948.33,332.99 L956.91,307.04 L965.48,277.14 L974.06,241.83 L982.63,216.94 L991.20,205.22 L999.78,202.79 L1008.35,204.46 L1016.93,204.93 L1024.80,200.71" fill="none" stroke="#ff0000" stroke-width="2.8" stroke-linejoin="round" stroke-linecap="butt"/>
<path d="M919.14,150.62 L919.90,149.28 L920.66,147.95 L921.41,146.63 L922.17,145.31 L922.92,143.99 L923.67,142.68 L924.41,141.37 L925.16,140.07 L925.91,138.77 L926.66,137.47 L927.40,136.17 L928.15,134.87 L928.90,133.58 L929.65,132.28 L930.40,130.99 L931.15,129.69 L931.91,128.39 L932.67,127.09 L933.43,125.79 L934.19,124.49 L934.96,123.18 L935.73,121.87 L936.51,120.55 L937.29,119.23 L938.08,117.90 L938.87,116.57 L939.67,115.24 L940.48,113.90 L941.29,112.57 L942.12,111.24 L942.96,109.91 L943.81,108.60 L944.67,107.29 L945.55,106.00 L946.45,104.73 L947.36,103.47 L948.29,102.24 L949.25,101.03 L950.22,99.84 L951.22,98.68 L952.24,97.56 L953.29,96.47 L954.36,95.41 L955.46,94.40 L956.59,93.42 L957.75,92.49 L958.94,91.60 L960.16,90.76 L961.41,89.97 L962.69,89.23 L963.99,88.54 L965.32,87.91 L966.67,87.33 L968.04,86.80 L969.43,86.34 L970.84,85.93 L972.26,85.59 L973.71,85.31 L975.17,85.09 L976.64,84.94 L978.13,84.84 L979.62,84.80 L981.13,84.80 L982.64,84.86 L984.16,84.96 L985.69,85.10 L987.22,85.28 L988.76,85.50 L990.29,85.74 L991.82,86.02 L993.36,86.31 L994.89,86.63 L996.42,86.96 L997.95,87.29 L999.47,87.63 L1000.99,87.96 L1002.51,88.28 L1004.03,88.59 L1005.54,88.87 L1007.05,89.13 L1008.56,89.36 L1010.06,89.54 L1011.56,89.69 L1013.05,89.78 L1014.54,89.81 L1016.03,89.79 L1017.51,89.69 L1018.98,89.53 L1020.45,89.28 L1021.92,88.95 L1023.38,88.54" fill="none" stroke="#800080" stroke-width="2.6" stroke-linecap="round" stroke-dasharray="0 6.25"/>
<path d="M596.80,428.40 L605.37,428.40 L613.95,428.40 L622.52,428.40 L631.10,428.40 L639.67,428.40 L648.24,428.40 L656.82,428.40 L665.39,428.40 L673.97,428.40 L682.54,428.40 L691.11,428.40 L699.69,428.40 L708.26,428.40 L716.84,428.40 L725.41,428.40 L733.98,428.40 L742.56,428.40 L751.13,428.10 L759.71,427.68 L768.28,426.95 L776.85,425.64 L785.43,423.34 L794.00,419.42 L802.58,412.94 L811.15,403.58 L819.72,391.39 L828.30,375.91 L836.87,357.34 L845.45,336.97 L854.02,314.67 L862.59,289.76 L871.17,262.27 L879.74,236.66 L888.32,215.74 L896.89,198.42 L905.46,184.49 L914.04,171.92 L922.61,159.02 L931.19,144.79 L939.76,130.74 L948.33,117.02 L956.91,103.04 L965.48,93.11 L974.06,87.58 L982.63,85.50 L991.20,85.63 L999.78,87.16 L1008.35,89.46 L1016.93,91.42 L1024.94,91.84" fill="none" stroke="#800080" stroke-width="2.8" stroke-linejoin="round" stroke-linecap="butt"/>
<path d="M876.06,349.31 L876.61,347.90 L877.15,346.50 L877.69,345.09 L878.23,343.68 L878.77,342.27 L879.31,340.86 L879.84,339.45 L880.38,338.04 L880.91,336.63 L881.44,335.22 L881.97,333.81 L882.49,332.39 L883.02,330.98 L883.54,329.57 L884.06,328.15 L884.58,326.74 L885.10,325.32 L885.62,323.91 L886.13,322.49 L886.65,321.08 L887.16,319.66 L887.67,318.24 L888.18,316.82 L888.69,315.40 L889.19,313.98 L889.70,312.57 L890.20,311.15 L890.70,309.72 L891.21,308.30 L891.71,306.88 L892.20,305.46 L892.70,304.04 L893.20,302.62 L893.69,301.19 L894.19,299.77 L894.68,298.34 L895.17,296.92 L895.66,295.49 L896.15,294.07 L896.64,292.64 L897.13,291.22 L897.62,289.79 L898.10,288.36 L898.59,286.94 L899.07,285.51 L899.56,284.08 L900.04,282.65 L900.53,281.23 L901.01,279.80 L901.50,278.37 L901.99,276.95 L902.48,275.52 L902.97,274.10 L903.46,272.67 L903.96,271.25 L904.46,269.83 L904.96,268.40 L905.47,266.98 L905.98,265.57 L906.49,264.15 L907.01,262.73 L907.53,261.32 L908.06,259.91 L908.59,258.50 L909.12,257.09 L909.67,255.68 L910.22,254.28 L910.77,252.88 L911.33,251.48 L911.89,250.08 L912.47,248.69 L913.04,247.29 L913.62,245.90 L914.20,244.51 L914.79,243.12 L915.38,241.73 L915.98,240.35 L916.57,238.96 L917.17,237.58 L917.78,236.19 L918.38,234.81 L918.99,233.43 L919.60,232.05 L920.21,230.67 L920.82,229.29 L921.43,227.91 L922.04,226.53 L922.65,225.15 L923.26,223.77 L923.88,222.39 L924.49,221.01 L925.10,219.62 L925.70,218.24 L926.31,216.86 L926.92,215.48 L927.52,214.09 L928.12,212.71 L928.72,211.32 L929.31,209.93 L929.90,208.54 L930.49,207.15 L931.07,205.76 L931.65,204.37 L932.23,202.97 L932.80,201.57 L933.37,200.18 L933.94,198.78 L934.50,197.38 L935.06,195.97 L935.61,194.57 L936.16,193.16 L936.71,191.76 L937.25,190.35 L937.79,188.94 L938.32,187.52 L938.84,186.11 L939.37,184.69 L939.88,183.28 L940.40,181.86 L940.90,180.44 L941.41,179.01 L941.91,177.59 L942.40,176.16 L942.88,174.73 L943.37,173.30 L943.84,171.87 L944.31,170.43 L944.78,169.00 L945.24,167.56 L945.69,166.12 L946.14,164.67 L946.58,163.23 L947.02,161.78 L947.45,160.33 L947.88,158.88 L948.31,157.43 L948.74,155.99 L949.17,154.54 L949.60,153.09 L950.04,151.65 L950.49,150.22 L950.94,148.78 L951.40,147.35 L951.88,145.93 L952.37,144.52 L952.87,143.11 L953.39,141.71 L953.93,140.31 L954.49,138.93 L955.06,137.56 L955.66,136.20 L956.29,134.85 L956.93,133.51 L957.61,132.18 L958.32,130.87 L959.05,129.57 L959.82,128.29 L960.62,127.03 L961.45,125.78 L962.32,124.54 L963.23,123.33 L964.18,122.13 L965.17,120.96 L966.20,119.80 L967.28,118.67 L968.39,117.57 L969.55,116.50 L970.74,115.49 L971.96,114.53 L973.22,113.63 L974.50,112.79 L975.81,112.04 L977.15,111.37 L978.51,110.78 L979.89,110.30 L981.29,109.92 L982.70,109.65 L984.13,109.49 L985.57,109.42 L987.03,109.43 L988.48,109.53 L989.95,109.70 L991.41,109.93 L992.88,110.23 L994.35,110.58 L995.81,110.96 L997.27,111.39 L998.74,111.83 L1000.20,112.29 L1001.66,112.76 L1003.12,113.22 L1004.59,113.67 L1006.06,114.09 L1007.53,114.49 L1009.00,114.84 L1010.48,115.14 L1011.97,115.38 L1013.46,115.55 L1014.95,115.66 L1016.45,115.71 L1017.95,115.69 L1019.46,115.60 L1020.97,115.44 L1022.49,115.21 L1024.01,114.92" fill="none" stroke="#008080" stroke-width="2.6" stroke-linecap="round" stroke-dasharray="0 6.25"/>
<path d="M596.80,428.40 L605.37,428.40 L613.95,428.40 L622.52,428.40 L631.10,428.40 L639.67,428.40 L648.24,428.40 L656.82,428.40 L665.39,428.40 L673.97,428.40 L682.54,428.40 L691.11,428.40 L699.69,428.40 L708.26,428.40 L716.84,428.40 L725.41,428.40 L733.98,428.40 L742.56,428.40 L751.13,428.40 L759.71,428.40 L768.28,428.40 L776.85,428.40 L785.43,428.40 L794.00,428.40 L802.58,428.25 L811.15,427.73 L819.72,426.98 L828.30,425.58 L836.87,423.01 L845.45,418.48 L854.02,410.74 L862.59,398.58 L871.17,381.00 L879.74,357.67 L888.32,330.43 L896.89,300.59 L905.46,272.84 L914.04,251.21 L922.61,230.15 L931.19,210.46 L939.76,190.29 L948.33,165.04 L956.91,138.22 L965.48,119.66 L974.06,107.24 L982.63,103.72 L991.20,104.80 L999.78,108.74 L1008.35,112.98 L1016.93,114.96 L1025.00,114.00" fill="none" stroke="#008080" stroke-width="2.8" stroke-linejoin="round" stroke-linecap="butt"/>
<path d="M875.61,411.26 L876.64,410.12 L877.66,408.96 L878.65,407.79 L879.62,406.61 L880.57,405.43 L881.50,404.23 L882.41,403.02 L883.31,401.79 L884.18,400.56 L885.04,399.33 L885.88,398.08 L886.71,396.82 L887.51,395.55 L888.30,394.27 L889.08,392.99 L889.84,391.70 L890.59,390.40 L891.32,389.09 L892.04,387.77 L892.75,386.45 L893.44,385.12 L894.12,383.79 L894.79,382.44 L895.45,381.10 L896.10,379.74 L896.73,378.38 L897.36,377.02 L897.98,375.64 L898.58,374.27 L899.18,372.89 L899.77,371.50 L900.36,370.11 L900.93,368.72 L901.50,367.33 L902.07,365.93 L902.62,364.52 L903.17,363.12 L903.72,361.71 L904.26,360.30 L904.80,358.88 L905.33,357.47 L905.86,356.05 L906.39,354.63 L906.92,353.21 L907.44,351.79 L907.96,350.37 L908.49,348.94 L909.01,347.52 L909.53,346.10 L910.05,344.68 L910.57,343.26 L911.09,341.83 L911.62,340.41 L912.15,339.00 L912.68,337.58 L913.21,336.16 L913.74,334.75 L914.28,333.33 L914.82,331.92 L915.36,330.51 L915.91,329.10 L916.45,327.69 L917.00,326.29 L917.55,324.88 L918.10,323.48 L918.65,322.07 L919.20,320.67 L919.76,319.26 L920.31,317.86 L920.87,316.46 L921.43,315.06 L921.98,313.66 L922.54,312.26 L923.10,310.86 L923.66,309.46 L924.22,308.06 L924.77,306.66 L925.33,305.26 L925.89,303.86 L926.45,302.46 L927.00,301.06 L927.56,299.66 L928.12,298.26 L928.67,296.86 L929.22,295.46 L929.78,294.05 L930.33,292.65 L930.88,291.25 L931.42,289.85 L931.97,288.44 L932.51,287.04 L933.06,285.63 L933.60,284.23 L934.13,282.82 L934.67,281.41 L935.20,280.00 L935.73,278.59 L936.26,277.18 L936.79,275.77 L937.31,274.35 L937.83,272.94 L938.34,271.52 L938.86,270.10 L939.37,268.68 L939.87,267.26 L940.37,265.83 L940.87,264.41 L941.37,262.98 L941.85,261.55 L942.34,260.12 L942.82,258.69 L943.30,257.25 L943.77,255.81 L944.24,254.37 L944.70,252.93 L945.16,251.49 L945.62,250.04 L946.07,248.60 L946.51,247.15 L946.96,245.70 L947.40,244.25 L947.84,242.80 L948.27,241.34 L948.70,239.89 L949.13,238.43 L949.55,236.98 L949.97,235.52 L950.39,234.07 L950.81,232.61 L951.23,231.15 L951.64,229.70 L952.05,228.24 L952.46,226.78 L952.87,225.33 L953.27,223.87 L953.67,222.41 L954.08,220.96 L954.48,219.51 L954.88,218.05 L955.28,216.60 L955.68,215.15 L956.07,213.70 L956.47,212.25 L956.87,210.80 L957.26,209.35 L957.66,207.91 L958.06,206.46 L958.45,205.02 L958.85,203.58 L959.25,202.14 L959.65,200.70 L960.05,199.26 L960.45,197.82 L960.85,196.38 L961.25,194.94 L961.65,193.50 L962.06,192.06 L962.47,190.62 L962.88,189.18 L963.29,187.73 L963.70,186.28 L964.12,184.84 L964.54,183.39 L964.96,181.93 L965.38,180.48 L965.81,179.02 L966.24,177.56 L966.67,176.09 L967.11,174.63 L967.55,173.15 L968.00,171.68 L968.45,170.20 L968.91,168.72 L969.37,167.23 L969.84,165.75 L970.33,164.28 L970.83,162.81 L971.35,161.35 L971.89,159.91 L972.45,158.49 L973.04,157.09 L973.66,155.71 L974.31,154.36 L975.00,153.04 L975.72,151.76 L976.48,150.51 L977.29,149.30 L978.14,148.13 L979.03,147.01 L979.98,145.93 L980.98,144.91 L982.04,143.94 L983.15,143.03 L984.33,142.18 L985.57,141.40 L986.88,140.68 L988.25,140.03 L989.68,139.47 L991.16,138.99 L992.67,138.62 L994.20,138.36 L995.74,138.23 L997.26,138.24 L998.76,138.40 L1000.23,138.72 L1001.67,139.17 L1003.08,139.70 L1004.49,140.28 L1005.89,140.87 L1007.29,141.45 L1008.70,142.02 L1010.12,142.56 L1011.54,143.06 L1012.98,143.51 L1014.43,143.89 L1015.90,144.20 L1017.40,144.42 L1018.91,144.53 L1020.45,144.54 L1022.03,144.43" fill="none" stroke="#ff8000" stroke-width="2.6" stroke-linecap="round" stroke-dasharray="0 6.25"/>
<path d="M596.80,428.40 L605.37,428.40 L613.95,428.40 L622.52,428.40 L631.10,428.40 L639.67,428.40 L648.24,428.40 L656.82,428.40 L665.39,428.40 L673.97,428.40 L682.54,428.40 L691.11,428.40 L699.69,428.40 L708.26,428.40 L716.84,428.40 L725.41,428.40 L733.98,428.40 L742.56,428.40 L751.13,428.40 L759.71,428.40 L768.28,428.40 L776.85,428.40 L785.43,428.40 L794.00,428.40 L802.58,428.40 L811.15,428.40 L819.72,428.40 L828.30,428.40 L836.87,428.40 L845.45,427.10 L854.02,426.33 L862.59,424.90 L871.17,421.26 L879.74,414.90 L888.32,404.99 L896.89,389.82 L905.46,368.67 L914.04,343.43 L922.61,317.59 L931.19,294.28 L939.76,272.31 L948.33,249.37 L956.91,215.72 L965.48,187.88 L974.06,159.27 L982.63,141.09 L991.20,134.76 L999.78,135.87 L1008.35,140.72 L1016.93,144.82 L1024.67,144.47" fill="none" stroke="#ff8000" stroke-width="2.8" stroke-linejoin="round" stroke-linecap="butt"/>
<path d="M879.93,418.01 L881.15,417.08 L882.36,416.13 L883.55,415.16 L884.73,414.18 L885.88,413.18 L887.03,412.17 L888.15,411.14 L889.25,410.09 L890.34,409.03 L891.41,407.95 L892.46,406.86 L893.48,405.75 L894.49,404.63 L895.48,403.49 L896.45,402.34 L897.39,401.17 L898.31,399.98 L899.21,398.78 L900.09,397.57 L900.95,396.34 L901.78,395.10 L902.60,393.84 L903.39,392.57 L904.17,391.29 L904.92,390.00 L905.66,388.70 L906.38,387.38 L907.08,386.06 L907.76,384.72 L908.42,383.38 L909.07,382.03 L909.70,380.66 L910.32,379.29 L910.93,377.92 L911.52,376.53 L912.10,375.14 L912.67,373.74 L913.23,372.34 L913.78,370.93 L914.32,369.52 L914.85,368.10 L915.38,366.68 L915.90,365.26 L916.41,363.83 L916.92,362.40 L917.43,360.97 L917.93,359.54 L918.43,358.10 L918.93,356.67 L919.42,355.24 L919.92,353.80 L920.42,352.37 L920.92,350.94 L921.42,349.51 L921.93,348.08 L922.44,346.66 L922.95,345.23 L923.46,343.81 L923.98,342.39 L924.49,340.97 L925.01,339.55 L925.52,338.13 L926.03,336.72 L926.54,335.30 L927.05,333.88 L927.55,332.46 L928.05,331.04 L928.55,329.62 L929.04,328.19 L929.52,326.77 L930.00,325.34 L930.47,323.91 L930.93,322.47 L931.39,321.04 L931.84,319.60 L932.28,318.16 L932.72,316.72 L933.16,315.28 L933.59,313.83 L934.02,312.39 L934.44,310.94 L934.87,309.49 L935.29,308.04 L935.71,306.60 L936.12,305.15 L936.54,303.70 L936.96,302.25 L937.38,300.80 L937.79,299.35 L938.21,297.91 L938.63,296.46 L939.04,295.01 L939.46,293.56 L939.88,292.11 L940.29,290.66 L940.71,289.21 L941.12,287.76 L941.54,286.31 L941.95,284.86 L942.36,283.41 L942.77,281.95 L943.18,280.50 L943.60,279.04 L944.00,277.58 L944.41,276.13 L944.82,274.67 L945.23,273.21 L945.63,271.74 L946.04,270.28 L946.44,268.81 L946.84,267.34 L947.24,265.87 L947.64,264.40 L948.04,262.93 L948.44,261.46 L948.85,259.99 L949.26,258.52 L949.68,257.05 L950.11,255.59 L950.54,254.14 L950.99,252.69 L951.46,251.25 L951.94,249.81 L952.44,248.39 L952.95,246.98 L953.49,245.58 L954.05,244.19 L954.63,242.82 L955.25,241.47 L955.88,240.13 L956.55,238.80 L957.25,237.50 L957.98,236.21 L958.73,234.94 L959.51,233.69 L960.32,232.45 L961.16,231.23 L962.02,230.03 L962.91,228.84 L963.83,227.67 L964.77,226.52 L965.74,225.38 L966.73,224.26 L967.73,223.15 L968.76,222.05 L969.80,220.96 L970.85,219.88 L971.91,218.81 L972.97,217.73 L974.04,216.67 L975.12,215.60 L976.19,214.53 L977.26,213.46 L978.33,212.39 L979.40,211.31 L980.45,210.23 L981.50,209.14 L982.54,208.05 L983.56,206.94 L984.57,205.83 L985.57,204.70 L986.54,203.56 L987.50,202.40 L988.44,201.24 L989.36,200.05 L990.26,198.85 L991.13,197.64 L991.99,196.41 L992.83,195.17 L993.65,193.92 L994.46,192.65 L995.25,191.37 L996.02,190.09 L996.78,188.79 L997.52,187.48 L998.26,186.16 L998.97,184.84 L999.68,183.50 L1000.37,182.16 L1001.06,180.81 L1001.73,179.45 L1002.40,178.09 L1003.05,176.73 L1003.70,175.36 L1004.34,173.98 L1004.98,172.60 L1005.60,171.22 L1006.23,169.83 L1006.85,168.45 L1007.46,167.06 L1008.07,165.67 L1008.68,164.28 L1009.29,162.89 L1009.90,161.50 L1010.50,160.12 L1011.11,158.73 L1011.71,157.34 L1012.32,155.96 L1012.92,154.58 L1013.53,153.19 L1014.14,151.81 L1014.75,150.43 L1015.36,149.06 L1015.97,147.68 L1016.59,146.30 L1017.21,144.93 L1017.83,143.56 L1018.45,142.19 L1019.08,140.82 L1019.72,139.45 L1020.35,138.09 L1021.00,136.73 L1021.64,135.37 L1022.30,134.01 L1022.96,132.65 L1023.62,131.30 L1024.29,129.94 L1024.97,128.59" fill="none" stroke="#8000ff" stroke-width="2.6" stroke-linecap="round" stroke-dasharray="0 6.25"/>
<path d="M596.80,428.40 L605.37,428.40 L613.95,428.40 L622.52,428.40 L631.10,428.40 L639.67,428.40 L648.24,428.40 L656.82,428.40 L665.39,428.40 L673.97,428.40 L682.54,428.40 L691.11,428.40 L699.69,428.40 L708.26,428.40 L716.84,428.40 L725.41,428.40 L733.98,428.40 L742.56,428.40 L751.13,428.40 L759.71,428.40 L768.28,428.40 L776.85,428.40 L785.43,428.40 L794.00,428.40 L802.58,428.40 L811.15,428.40 L819.72,428.40 L828.30,428.40 L836.87,428.40 L845.45,427.98 L854.02,427.39 L862.59,426.76 L871.17,425.42 L879.74,422.57 L888.32,417.52 L896.89,408.98 L905.46,396.67 L914.04,381.24 L922.61,359.83 L931.19,330.92 L939.76,300.58 L948.33,268.46 L956.91,242.16 L965.48,226.56 L974.06,217.56 L982.63,211.26 L991.20,203.36 L999.78,189.05 L1008.35,169.85 L1016.93,147.89 L1024.98,128.32" fill="none" stroke="#8000ff" stroke-width="2.8" stroke-linejoin="round" stroke-linecap="butt"/>
<rect x="605.3" y="27.0" width="22.2" height="10.0" fill="#000000" stroke="#000" stroke-width="1"/>
<text x="635.2" y="36.2" font-size="12.7" stroke="#000" stroke-width="0.6">SiO<tspan font-size="8.6" dy="3" stroke-width="0.3">2</tspan><tspan dy="-3"> = 3016 Cycles</tspan></text>
<rect x="605.3" y="45.6" width="22.2" height="10.0" fill="#ff0000" stroke="#600" stroke-width="1"/>
<text x="635.7" y="55.7" font-size="12.7" stroke="#000" stroke-width="0.6">HfO<tspan font-size="8.6" dy="3" stroke-width="0.3">2</tspan><tspan dy="-3"> = 1524 Cycles</tspan></text>
<rect x="605.3" y="64.6" width="22.2" height="10.0" fill="#800080" stroke="#303" stroke-width="1"/>
<text x="633.1" y="72.9" font-size="12.8" stroke="#000" stroke-width="0.5">SiO<tspan dy="3">2</tspan><tspan dy="-3">:HfO</tspan><tspan dy="3">2</tspan><tspan dy="-3"> = [8:2]*300</tspan></text>
<rect x="605.3" y="83.6" width="22.2" height="10.0" fill="#008080" stroke="#033" stroke-width="1"/>
<text x="634.4" y="91.7" font-size="12.8" stroke="#000" stroke-width="0.5">SiO<tspan dy="3">2</tspan><tspan dy="-3">:HfO</tspan><tspan dy="3">2</tspan><tspan dy="-3"> = [8:4]*230</tspan></text>
<rect x="605.3" y="102.2" width="22.2" height="10.0" fill="#ff8000" stroke="#630" stroke-width="1"/>
<text x="635.5" y="110.5" font-size="12.8" stroke="#000" stroke-width="0.5">SiO<tspan dy="3">2</tspan><tspan dy="-3">:HfO</tspan><tspan dy="3">2</tspan><tspan dy="-3"> = [8:8]*145</tspan></text>
<rect x="605.3" y="121.2" width="22.2" height="10.0" fill="#8000ff" stroke="#306" stroke-width="1"/>
<text x="634.1" y="129.3" font-size="12.8" stroke="#000" stroke-width="0.5">SiO<tspan dy="3">2</tspan><tspan dy="-3">:HfO</tspan><tspan dy="3">2</tspan><tspan dy="-3"> = [8:16]*76</tspan></text>
<text x="524.4" y="20.3" font-size="17.2" stroke="#000" stroke-width="0.35">(d)</text>
<text x="803.0" y="487.9" font-size="20" font-weight="bold" text-anchor="middle">Wavelength [nm]</text>
<text transform="translate(541.9,215.8) rotate(-90)" x="0" y="0" font-size="20" font-weight="bold" text-anchor="middle">Transmittance [%]</text>
</svg>
</body></html>
